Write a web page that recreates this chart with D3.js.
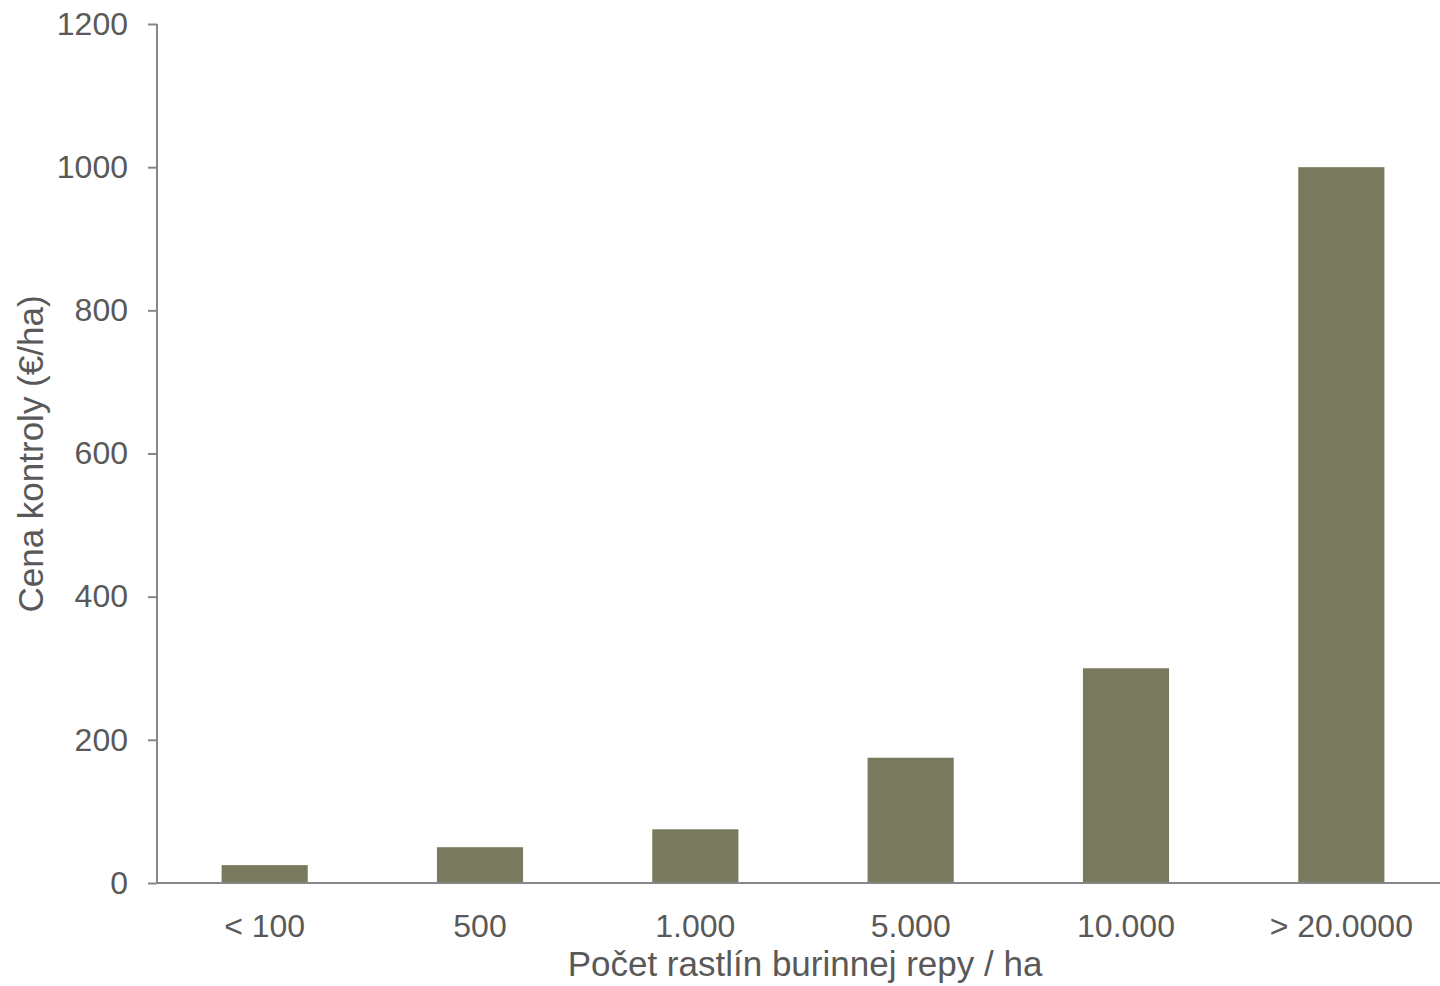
<!DOCTYPE html>
<html><head><meta charset="utf-8">
<script src="https://cdn.jsdelivr.net/npm/d3@7"></script>
<style>html,body{margin:0;padding:0;background:#fff;overflow:hidden}</style>
</head><body>
<script>
const categories = ["< 100", "500", "1.000", "5.000", "10.000", "> 20.0000"];
const values = [25, 50, 75, 175, 300, 1000];
const yTicks = [0, 200, 400, 600, 800, 1000, 1200];
const xTitle = "Počet rastlín burinnej repy / ha";
const yTitle = "Cena kontroly (€/ha)";

const W = 1440, H = 986;
const mLeft = 157, mRight = 1449, mTop = 24, mBottom = 883;
const font = "'Liberation Sans', Arial, sans-serif";
const textColor = "#595959", axisColor = "#878787", barColor = "#79795d";

const svg = d3.select("body").append("svg").attr("width", W).attr("height", H);

const x = d3.scaleBand().domain(categories).range([mLeft, mRight]).paddingInner(0.6).paddingOuter(0.3);
const y = d3.scaleLinear().domain([0, 1200]).range([mBottom, mTop]);

svg.selectAll("rect.bar").data(values).join("rect")
  .attr("class", "bar")
  .attr("x", (d, i) => x(categories[i]))
  .attr("width", x.bandwidth())
  .attr("y", d => y(d))
  .attr("height", d => y(0) - y(d))
  .attr("fill", barColor);

const yAxis = svg.append("g").attr("transform", `translate(${mLeft},0)`)
  .call(d3.axisLeft(y).tickValues(yTicks).tickFormat(d3.format("d")).tickSize(9).tickPadding(20));
const xAxis = svg.append("g").attr("transform", `translate(0,${mBottom})`)
  .call(d3.axisBottom(x).tickSize(0).tickPadding(31));

[yAxis, xAxis].forEach(g => {
  g.select(".domain").attr("stroke", axisColor).attr("stroke-width", 2);
  g.selectAll(".tick line").attr("stroke", axisColor).attr("stroke-width", 2);
  g.selectAll(".tick text").attr("fill", textColor).style("font-family", font).style("font-size", "32px");
});
xAxis.select(".domain").attr("d", `M${mLeft},0H${mRight}`);
yAxis.select(".domain").attr("d", `M0,${mTop}V${mBottom}`);

svg.append("text").attr("x", 805).attr("y", 976)
  .attr("text-anchor", "middle").attr("fill", textColor)
  .style("font-family", font).style("font-size", "35px").text(xTitle);

svg.append("text").attr("transform", `translate(43,454) rotate(-90)`)
  .attr("text-anchor", "middle").attr("fill", textColor)
  .style("font-family", font).style("font-size", "35px").text(yTitle);
</script>
</body></html>
